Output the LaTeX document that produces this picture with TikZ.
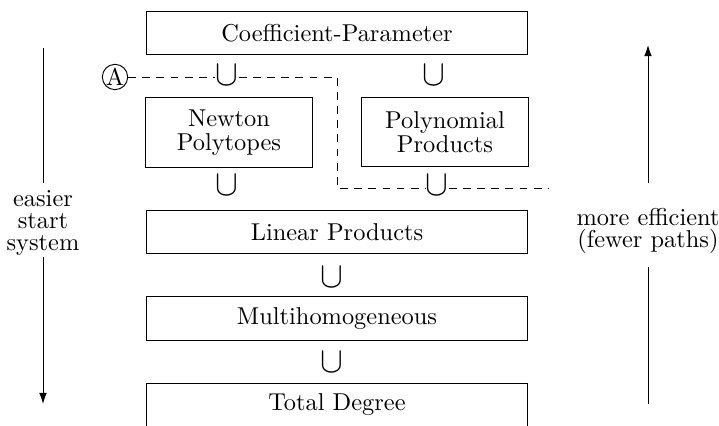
\documentclass[tikz,border=0pt]{standalone}
\usetikzlibrary{arrows.meta}
\begin{document}
\begin{tikzpicture}[x=0.41pt,y=-0.41pt,
  bigbox/.style={draw,minimum width=156.6pt,minimum height=18pt,inner sep=0pt},
  smallbox/.style={draw,minimum width=68.1pt,minimum height=28.5pt,inner sep=0pt,align=center,font=\fontsize{10pt}{9.6pt}\selectfont},
  cupnode/.style={inner sep=0pt,text height=8pt,text depth=0pt},
  sidelabel/.style={align=center,inner sep=0pt,font=\fontsize{10pt}{9pt}\selectfont},
  dashline/.style={dashed,dash pattern=on 3.2pt off 2.6pt},
  tip/.style={-{Latex[length=4.6pt,width=3.2pt]}}]
\newcommand\mycup{\scalebox{1.4}[1.5]{$\cup$}}
\useasboundingbox (0,0) rectangle (719,425);
\clip (0,0) rectangle (719,425);
% boxes
\node[bigbox] (cp) at (337,33) {Coefficient-Parameter};
\node[smallbox] (np) at (229,132.5) {Newton\\Polytopes};
\node[smallbox] (pp) at (445,132) {Polynomial\\Products};
\node[bigbox] (lp) at (337,232) {Linear Products};
\node[bigbox] (mh) at (337,318.5) {Multihomogeneous};
\node[bigbox] (td) at (337,405) {Total Degree};
% cups
\node[cupnode] (c1) at (227,76) {\mycup};
\node[cupnode] (c2) at (434,76) {\mycup};
\node[cupnode] (c3) at (227,186) {\mycup};
\node[cupnode] (c4) at (437,186) {\mycup};
\node[cupnode] (c5) at (332,278) {\mycup};
\node[cupnode] (c6) at (332,363) {\mycup};
% circled A and dashed path
\node[draw,circle,inner sep=0pt] (A) at (115,77) {A};
\coordinate (k1) at (337,77);
\coordinate (k2) at (337,188);
\coordinate (k3) at (548,188);
\draw[dashline] (A.east) -- (c1.west |- A.east);
\draw[dashline] (c1.east |- A.east) -- (k1) -- (k2) -- (c4.west |- k2);
\draw[dashline] (c4.east |- k2) -- (k3);
% side labels and arrows
\node[sidelabel] (easy) at (43,223) {easier\\start\\system};
\node[sidelabel] (eff) at (648,231) {more efficient\\(fewer paths)};
\coordinate (l1) at (43,48);
\coordinate (l2) at (43,183);
\coordinate (l3) at (43,257);
\coordinate (l4) at (43,404);
\draw (l1) -- (l2);
\draw[tip] (l3) -- (l4);
\coordinate (r1) at (648,404);
\coordinate (r2) at (648,267);
\coordinate (r3) at (648,183);
\coordinate (r4) at (648,45);
\draw (r1) -- (r2);
\draw[tip] (r3) -- (r4);
\end{tikzpicture}
\end{document}
